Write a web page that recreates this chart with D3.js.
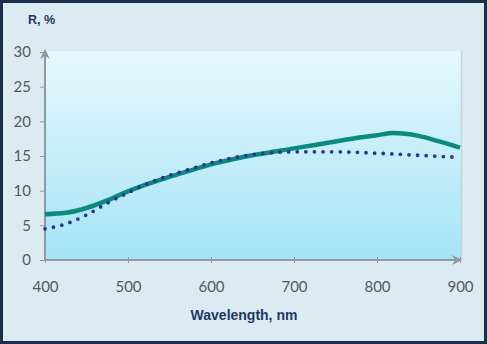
<!DOCTYPE html>
<html>
<head>
<meta charset="utf-8">
<script src="https://d3js.org/d3.v7.min.js"></script>
<style>
  body { margin: 0; padding: 0; background: #ffffff; }
  svg { display: block; }
</style>
</head>
<body>
<div id="chart"></div>
<script>
// wavelength (nm) and reflectance (%)
var solidWl  = [400, 425, 450, 475, 500, 525, 550, 575, 600, 625, 650, 675, 700, 725, 750, 775, 800, 820, 850, 875, 900];
var solidR   = [6.6, 6.8, 7.5, 8.6, 9.9, 11.0, 12.0, 12.9, 13.8, 14.5, 15.1, 15.6, 16.1, 16.6, 17.1, 17.6, 18.0, 18.3, 17.9, 17.1, 16.2];
var dottedWl = [400, 425, 450, 475, 500, 525, 550, 575, 600, 625, 650, 675, 700, 750, 800, 850, 900];
var dottedR  = [4.5, 5.2, 6.5, 8.2, 9.7, 11.1, 12.2, 13.1, 14.0, 14.7, 15.2, 15.5, 15.6, 15.6, 15.4, 15.1, 14.8];
var xTicks = [400, 500, 600, 700, 800, 900];
var yTicks = [0, 5, 10, 15, 20, 25, 30];

var W = 487, H = 344;
var margin = { top: 52, right: 27, bottom: 84, left: 45 };
var width = W - margin.left - margin.right,
    height = H - margin.top - margin.bottom;

var svg = d3.select("#chart").append("svg")
    .attr("width", W)
    .attr("height", H);

var defs = svg.append("defs");
var grad = defs.append("linearGradient")
    .attr("id", "plotGrad")
    .attr("x1", 0).attr("y1", 0).attr("x2", 0).attr("y2", 1);
grad.append("stop").attr("offset", "0%").attr("stop-color", "#e6f8fd");
grad.append("stop").attr("offset", "100%").attr("stop-color", "#a5e3f6");

defs.append("marker")
    .attr("id", "arrow")
    .attr("viewBox", "0 0 10 10")
    .attr("refX", 9).attr("refY", 5)
    .attr("markerWidth", 5).attr("markerHeight", 5)
    .attr("orient", "auto")
  .append("path")
    .attr("d", "M0,0 L10,5 L0,10 L3,5 Z")
    .attr("fill", "#8f9aa0");

// outer frame
svg.append("rect")
    .attr("x", 1.5).attr("y", 1.5)
    .attr("width", W - 3).attr("height", H - 3)
    .attr("fill", "#dcebf1")
    .attr("stroke", "#1b2e4b")
    .attr("stroke-width", 3);

var g = svg.append("g")
    .attr("transform", "translate(" + margin.left + "," + margin.top + ")");

// scales
var x = d3.scaleLinear().domain([400, 900]).range([0, width]);
var y = d3.scaleLinear().domain([0, 30]).range([height, 0]);

// plot area
g.append("rect")
    .attr("x", 0).attr("y", -1)
    .attr("width", width + 1).attr("height", height + 1)
    .attr("fill", "url(#plotGrad)");
g.append("line")
    .attr("x1", width + 1.5).attr("x2", width + 1.5)
    .attr("y1", -1).attr("y2", height)
    .attr("stroke", "#c4d3da").attr("stroke-width", 1.5);

// axes
var xAxis = d3.axisBottom(x).tickValues(xTicks).tickSize(3).tickPadding(18);
var yAxis = d3.axisLeft(y).tickValues(yTicks).tickSize(5).tickPadding(9);

var gx = g.append("g")
    .attr("class", "x-axis axis")
    .attr("transform", "translate(0," + height + ")")
    .call(xAxis);
var gy = g.append("g")
    .attr("class", "y-axis axis")
    .call(yAxis);

[gx, gy].forEach(function(a){
    a.select(".domain").remove();
    a.selectAll(".tick line").attr("stroke", "#8f9aa0").attr("stroke-width", 1);
    a.selectAll(".tick text")
        .attr("fill", "#505a60")
        .style("font-family", "Lato, 'Open Sans', sans-serif")
        .style("font-size", "15px");
});
gx.selectAll(".tick line").attr("y1", -3);

g.append("line")
    .attr("x1", 0).attr("x2", 0)
    .attr("y1", height).attr("y2", -2)
    .attr("stroke", "#8f9aa0").attr("stroke-width", 2)
    .attr("marker-end", "url(#arrow)");
g.append("line")
    .attr("x1", 0).attr("x2", width + 1)
    .attr("y1", height).attr("y2", height)
    .attr("stroke", "#8f9aa0").attr("stroke-width", 2)
    .attr("marker-end", "url(#arrow)");

// curves
var line = d3.line()
    .curve(d3.curveMonotoneX)
    .x(function(d) { return x(d[0]); })
    .y(function(d) { return y(d[1]); });

var dotted = d3.zip(dottedWl, dottedR);
var solid = d3.zip(solidWl, solidR);

g.append("path")
    .datum(solid)
    .attr("d", line)
    .attr("fill", "none")
    .attr("stroke", "#0b8a7f")
    .attr("stroke-width", 4.5)
    .attr("stroke-linejoin", "round");

g.append("path")
    .datum(dotted)
    .attr("d", line)
    .attr("fill", "none")
    .attr("stroke", "#2b3590")
    .attr("stroke-width", 3.8)
    .attr("stroke-linecap", "round")
    .attr("stroke-dasharray", "0 8.6");

// titles
svg.append("text")
    .attr("x", 28).attr("y", 24)
    .attr("fill", "#1f3864")
    .style("font-family", "'Liberation Sans', Arial, sans-serif")
    .style("font-weight", "bold")
    .style("font-size", "12.5px")
    .text("R, %");

svg.append("text")
    .attr("x", 244).attr("y", 320)
    .attr("text-anchor", "middle")
    .attr("fill", "#1f3864")
    .style("font-family", "'Liberation Sans', Arial, sans-serif")
    .style("font-weight", "bold")
    .style("font-size", "14px")
    .text("Wavelength, nm");
</script>
</body>
</html>
